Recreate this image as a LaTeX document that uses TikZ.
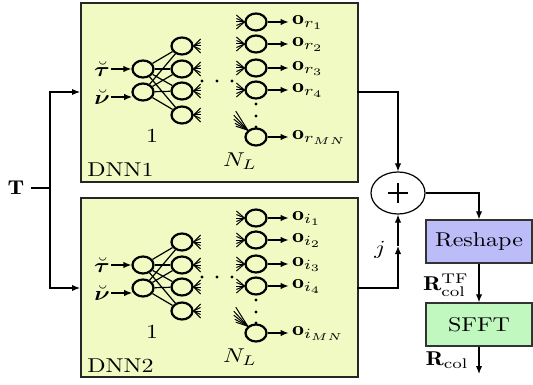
\RequirePackage{fix-cm}
\documentclass[tikz,border=0pt]{standalone}
\usepackage{amsmath,bm,graphicx}
\usepackage{fontspec}
\usetikzlibrary{shapes.geometric,arrows.meta,calc}
\definecolor{dnnfill}{RGB}{242,250,196}
\definecolor{reshapefill}{RGB}{188,188,248}
\definecolor{sfftfill}{RGB}{192,248,192}
\newcommand{\sx}[1]{\scalebox{1.2}[1]{#1}}
\tikzset{
  neuron/.style={ellipse, draw, line width=1.1pt, minimum width=10.5pt, minimum height=8.5pt, inner sep=0pt},
  link/.style={line width=0.6pt},
  fan/.style={line width=0.5pt},
  arr/.style={line width=0.6pt, -{Latex[length=4pt,width=3.2pt]}},
  dnnbox/.style={draw=black!85, line width=0.8pt, fill=dnnfill, anchor=north west, minimum width=138.5pt, minimum height=89.5pt, inner sep=0pt},
  procbox/.style={draw=black!80, line width=0.7pt, minimum width=53pt, minimum height=21.5pt, inner sep=0pt},
  lbl/.style={inner sep=0.5pt},
  every node/.append style={font=\fontsize{10}{12}\selectfont}
}
\newcommand{\mydnn}[3]{%
\begin{scope}[shift={(0,#2)}]
  \node[neuron] (#1a1) at (143,69) {};
  \node[neuron] (#1a2) at (143,92) {};
  \node[neuron] (#1b1) at (182,46) {};
  \node[neuron] (#1b2) at (182,69) {};
  \node[neuron] (#1b3) at (182,91) {};
  \node[neuron] (#1b4) at (182,115) {};
  \node[neuron] (#1c1) at (256,22) {};
  \node[neuron] (#1c2) at (256,44) {};
  \node[neuron] (#1c3) at (256,68) {};
  \node[neuron] (#1c4) at (256,90) {};
  \node[neuron] (#1c5) at (256,137) {};
  \foreach \i in {1,2} \foreach \j in {1,2,3,4} \draw[link] (#1a\i) -- (#1b\j);
  \foreach \j in {1,2,3,4} \foreach \d in {-7,-3.5,0,3.5,7} \draw[fan] (#1b\j.east) -- ++(7,\d);
  \foreach \j in {1,2,3,4} \foreach \d in {-7,-3.5,0,3.5,7} \draw[fan] (#1c\j.west) -- ++(-8,\d);
  \foreach \dx/\dy in {-12/-19,-14/-15,-14/-11,-13/-7,-12/-4} \draw[fan] (#1c5.north west) -- ++(\dx,\dy);
  \foreach \x in {202,217,232} \fill (\x,81) circle[radius=0.8pt];
  \foreach \y in {104,116,127} \fill (256,\y) circle[radius=0.8pt];
  \node[lbl] (#1tau) at (102,69) {\sx{$\breve{\bm\tau}$}};
  \node[lbl] (#1nu) at (102,97) {\sx{$\breve{\bm\nu}$}};
  \draw[arr] (#1tau.east) -- (#1a1.west);
  \draw[arr] (#1nu.east) -- ++(21,0);
  \foreach \j/\s in {1/1,2/2,3/3,4/4,5/MN}
    \draw[arr] (#1c\j.east) -- ++(21,0) node[right, inner sep=1.5pt] {\sx{$\mathbf{o}_{#3_{\s}}$}};
  \node (#1one) at (152,136) {\sx{$1$}};
  \node (#1nl) at (240,161) {\sx{$N_L$}};
\end{scope}}
\begin{document}
\begin{tikzpicture}[x=0.5pt, y=-0.5pt]
  \useasboundingbox (0,0) rectangle (533,384);
  % boxes
  \node[dnnbox] (dnn1) at (80,2) {};
  \node[dnnbox] (dnn2) at (80,197) {};
  \node[anchor=west, inner sep=1pt] (lab1) at (85,170) {\sx{DNN1}};
  \node[anchor=west, inner sep=1pt] (lab2) at (85,366) {\sx{DNN2}};
  \mydnn{A}{0}{r}
  \mydnn{B}{196}{i}
  % input split
  \node (T) at (16,188) {\sx{$\mathbf{T}$}};
  \coordinate (split) at (50,188);
  \coordinate (in1) at (80,92);
  \coordinate (in2) at (80,288);
  \draw[link] (T.east) -- (split);
  \draw[arr] (split) |- (in1);
  \draw[arr] (split) |- (in2);
  % sum
  \node[ellipse, draw, line width=0.6pt, minimum width=27pt, minimum height=21pt, inner sep=0pt] (sum) at (398,193) {};
  \draw[line width=0.6pt] ($(sum.center)+(-10,0)$) -- ($(sum.center)+(10,0)$);
  \draw[line width=0.6pt] ($(sum.center)+(0,-10)$) -- ($(sum.center)+(0,10)$);
  \coordinate (out1) at (357,92);
  \coordinate (out2) at (357,288);
  \coordinate (jtip) at (398,246);
  \draw[arr] (out1) -| (sum.north);
  \draw[arr] (out2) -| (jtip);
  \draw[arr] (jtip) -- (sum.south);
  \node (j) at (380,250) {\sx{$j$}};
  % reshape and sfft
  \node[procbox, fill=reshapefill] (reshape) at (479,241.5) {\sx{Reshape}};
  \node[procbox, fill=sfftfill] (sfft) at (479,324.5) {\sx{SFFT}};
  \coordinate (final) at (479,374);
  \draw[arr] (sum.east) -| (reshape.north);
  \draw[arr] (reshape.south) -- (sfft.north);
  \draw[arr] (sfft.south) -- (final);
  \node[anchor=east, inner sep=1pt] (rtf) at (471,285) {\sx{$\mathbf{R}_{\mathrm{col}}^{\mathrm{TF}}$}};
  \node[anchor=east, inner sep=1pt] (rcol) at (471,360) {\sx{$\mathbf{R}_{\mathrm{col}}$}};
\end{tikzpicture}
\end{document}
